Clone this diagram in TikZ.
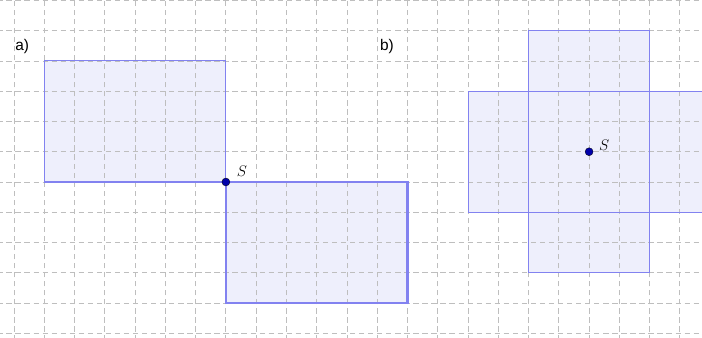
\documentclass[tikz,border=0pt]{standalone}
\usepackage{fontspec}
\newfontfamily\labelfont{Liberation Sans}
\definecolor{gridgray}{RGB}{190,190,190}
\definecolor{rectfill}{RGB}{238,239,252}
\definecolor{rectline}{RGB}{130,130,240}
\definecolor{ptblue}{RGB}{0,0,170}
\usetikzlibrary{positioning}

\begin{document}
\begin{tikzpicture}[
  gridline/.style={gridgray,line width=0.8pt,dash pattern=on 5pt off 3.5pt,dash phase=2.5pt},
  rectbox/.style={fill=rectfill},
  rectedge/.style={draw=rectline,line width=1pt},
  pt/.style={circle,fill=ptblue,draw=black,line width=0.3pt,inner sep=0pt,minimum size=7.5pt},
  ptlabel/.style={font=\fontsize{15}{17}\selectfont,inner sep=1pt},
  partlabel/.style={font=\labelfont\fontsize{14.5}{16}\selectfont},
]
  % Frame
  \clip (-0.4625,-0.153) rectangle (22.73,11.013);
  \useasboundingbox (-0.4625,-0.153) rectangle (22.73,11.013);

  % Fills
  \fill[rectbox] (1,5) rectangle (7,9);
  \fill[rectbox] (7,1) rectangle (13,5);
  \fill[rectbox] (17,2) rectangle (21,10);
  \fill[rectbox] (15,4) rectangle (23,8);

  % Grid
  \draw[gridline] (-0.4625,-0.153) grid (22.73,11.013);

  % Rectangles a)
  \draw[rectedge] (1,5) rectangle (7,9);
  \draw[rectedge,line width=2pt] (7,1) rectangle (13,5);

  % Rectangles b)
  \draw[rectedge] (17,2) rectangle (21,10);
  \draw[rectedge] (15,4) rectangle (23,8);

  % Centres
  \node[pt] (Sa) at (7,5) {};
  \node[pt] (Sb) at (19,6) {};
  \node[ptlabel] (SaLabel) at (7.53,5.36) {$S$};
  \node[ptlabel] (SbLabel) at (19.5,6.23) {$S$};

  % Part labels
  \node[partlabel] (la) at (0.27,9.46) {a)};
  \node[partlabel] (lb) at (12.32,9.46) {b)};
\end{tikzpicture}
\end{document}
